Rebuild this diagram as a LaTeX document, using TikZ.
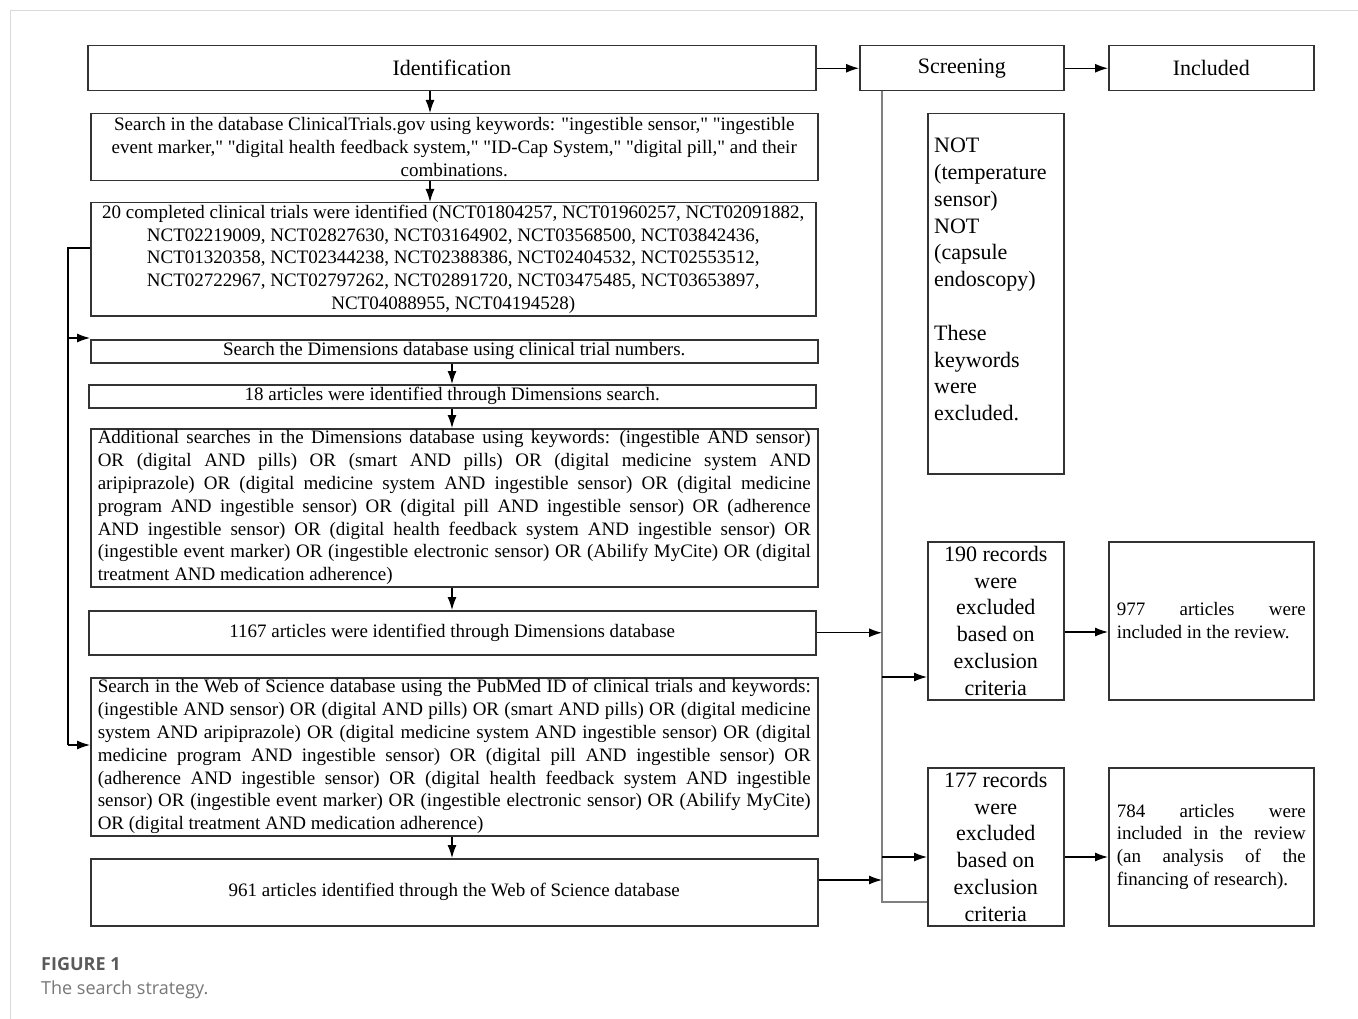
\documentclass[tikz,border=0pt]{standalone}
\usepackage{fontspec}
\setmainfont{Liberation Serif}[Ligatures=TeXOff]
\newfontfamily\capfont{Open Sans}
\usetikzlibrary{arrows.meta,calc}
\definecolor{framec}{HTML}{D9D9D9}
\definecolor{boxc}{HTML}{333333}
\definecolor{scrc}{HTML}{808080}
\definecolor{capa}{HTML}{5A5A5A}
\definecolor{capb}{HTML}{777777}
\newlength\jw
\setlength\jw{713pt}
\newcommand\jl[2][\jw]{\makebox[#1][s]{\spaceskip=\fontdimen2\font plus 1fil minus \fontdimen4\font\relax #2}\\}
\newcommand\nl[1]{{\spaceskip=\fontdimen2\font plus \fontdimen3\font minus \fontdimen4\font\relax #1}}
\begin{document}
\begin{tikzpicture}[x=1pt,y=-1pt,
  box/.style={draw=boxc,line width=1.5pt,inner sep=0pt,anchor=north west},
  arr/.style={draw=black,line width=1.2pt,-{Latex[length=13pt,width=9pt]}},
  sline/.style={draw=scrc,line width=1.4pt},
  f19/.style={font=\fontsize{19}{22.8}\selectfont},
  f22/.style={font=\fontsize{22}{26.8}\selectfont},
  jbox/.style={box,f19,text width=713pt,align=left},
  cbox/.style={box,f19,align=center},
]
\useasboundingbox (0,0) rectangle (1358,1019);
\draw[framec,line width=1pt] (10,1019) -- (10,11) -- (1358,11);

% header boxes
\node[box,f22,minimum width=728pt,minimum height=45pt] (ident) at (87,45) {Identification};
\node[box,f22,minimum width=204pt,minimum height=45pt] (scr) at (859,45) {Screening};
\node[box,f22,minimum width=205pt,minimum height=45pt] (incl) at (1108,45) {Included};

% left column
\node[cbox,minimum width=727pt,minimum height=67pt] (b1) at (90,113) {Search in the database ClinicalTrials.gov using keywords: "ingestible sensor," "ingestible\\event marker," "digital health feedback system," "ID-Cap System," "digital pill," and their\\combinations.};
\node[cbox,minimum width=725pt,minimum height=113pt] (b2) at (90,202) {20 completed clinical trials were identified (NCT01804257, NCT01960257, NCT02091882,\\NCT02219009, NCT02827630, NCT03164902, NCT03568500, NCT03842436,\\NCT01320358, NCT02344238, NCT02388386, NCT02404532, NCT02553512,\\NCT02722967, NCT02797262, NCT02891720, NCT03475485, NCT03653897,\\NCT04088955, NCT04194528)};
\node[cbox,minimum width=727pt,minimum height=23pt] (b3) at (90,339) {Search the Dimensions database using clinical trial numbers.};
\node[cbox,minimum width=727pt,minimum height=23pt] (b4) at (88,384) {18 articles were identified through Dimensions search.};
\node[jbox,minimum width=727pt,minimum height=158pt] (b5) at (90,428) {%
\jl{Additional searches in the Dimensions database using keywords: (ingestible AND sensor)}%
\jl{OR (digital AND pills) OR (smart AND pills) OR (digital medicine system AND}%
\jl{aripiprazole) OR (digital medicine system AND ingestible sensor) OR (digital medicine}%
\jl{program AND ingestible sensor) OR (digital pill AND ingestible sensor) OR (adherence}%
\jl{AND ingestible sensor) OR (digital health feedback system AND ingestible sensor) OR}%
\jl{(ingestible event marker) OR (ingestible electronic sensor) OR (Abilify MyCite) OR (digital}%
\nl{treatment AND medication adherence)}};
\node[cbox,minimum width=727pt,minimum height=44pt] (b6) at (88,610) {1167 articles were identified through Dimensions database};
\node[jbox,minimum width=727pt,minimum height=158pt] (wos) at (90,677) {%
\jl{Search in the Web of Science database using the PubMed ID of clinical trials and keywords:}%
\jl{(ingestible AND sensor) OR (digital AND pills) OR (smart AND pills) OR (digital medicine}%
\jl{system AND aripiprazole) OR (digital medicine system AND ingestible sensor) OR (digital}%
\jl{medicine program AND ingestible sensor) OR (digital pill AND ingestible sensor) OR}%
\jl{(adherence AND ingestible sensor) OR (digital health feedback system AND ingestible}%
\jl{sensor) OR (ingestible event marker) OR (ingestible electronic sensor) OR (Abilify MyCite)}%
\nl{OR (digital treatment AND medication adherence)}};
\node[cbox,minimum width=727pt,minimum height=67pt] (b8) at (90,858) {961 articles identified through the Web of Science database};

% right columns
\node[box,minimum width=136pt,minimum height=360pt] (notb) at (927,113) {};
\node[f22,anchor=north west,inner sep=0pt,text width=125pt,align=left] (nottxt) at (934,138) {NOT\\(temperature\\sensor)\\NOT\\(capsule\\endoscopy)\\[26.8pt]These\\keywords\\were\\excluded.};
\node[box,f22,align=center,minimum width=136pt,minimum height=158pt] (r190) at (927,541) {190 records\\were\\excluded\\based on\\exclusion\\criteria};
\node[box,f19,text width=189pt,align=left,minimum width=205pt,minimum height=158pt] (i977) at (1108,541) {\jl[189pt]{977 articles were}\nl{included in the review.}};
\node[box,f22,align=center,minimum width=136pt,minimum height=158pt] (r177) at (927,767) {177 records\\were\\excluded\\based on\\exclusion\\criteria};
\node[box,f19,text width=189pt,align=left,minimum width=205pt,minimum height=158pt] (i784) at (1108,767) {\jl[189pt]{784 articles were}\jl[189pt]{included in the review}\jl[189pt]{(an analysis of the}\nl{financing of research).}};

% caption
\node[anchor=base west,inner sep=0pt,text=capa,font=\capfont\bfseries\fontsize{18}{22}\selectfont] (cap1) at (41,970) {FIGURE 1};
\node[anchor=base west,inner sep=0pt,text=capb,font=\capfont\fontsize{18}{22}\selectfont] (cap2) at (41,994) {The search strategy.};

% helper coordinates
\coordinate (cA) at (430,0);
\coordinate (cB) at (452,0);
\coordinate (cS) at (882,0);
\coordinate (L1) at (68,248);
\coordinate (L2) at (68,745);

% header arrows
\draw[arr] (ident.east) -- (scr.west);
\draw[arr] (scr.east) -- (incl.west);

% vertical arrows
\draw[arr] (cA |- ident.south) -- (cA |- b1.north);
\draw[arr] (cA |- b1.south) -- (cA |- b2.north);
\draw[arr] (cB |- b3.south) -- (cB |- b4.north);
\draw[arr] (cB |- b4.south) -- (cB |- b5.north);
\draw[arr] (cB |- b5.south) -- (cB |- b6.north);
\draw[arr] (cB |- wos.south) -- (cB |- b8.north);

% left loop
\draw[line width=1.2pt] (L1 -| b2.west) -- (L1) -- (L2);
\draw[arr] (L2) -- (L2 -| wos.west);
\draw[arr] (L1 |- 0,338) -- (b3.west |- 0,338);

% screening trunk
\coordinate (u177) at ($(r177.north west)+(0,135)$);
\draw[sline] (cS |- scr.south) -- (cS |- u177) -- (u177);
\draw[arr] (b6.east) -- (b6.east -| cS);
\coordinate (b8e) at ($(b8.north east)+(0,22)$);
\draw[arr] (b8e) -- (b8e -| cS);
\coordinate (t190) at ($(r190.north west)+(0,136)$);
\draw[arr] (t190 -| cS) -- (t190);
\coordinate (t177) at ($(r177.north west)+(0,90)$);
\draw[arr] (t177 -| cS) -- (t177);

% to included
\coordinate (a190) at ($(r190.north east)+(0,91)$);
\draw[arr] (a190) -- (a190 -| i977.west);
\coordinate (a177) at ($(r177.north east)+(0,90)$);
\draw[arr] (a177) -- (a177 -| i784.west);
\end{tikzpicture}
\end{document}
